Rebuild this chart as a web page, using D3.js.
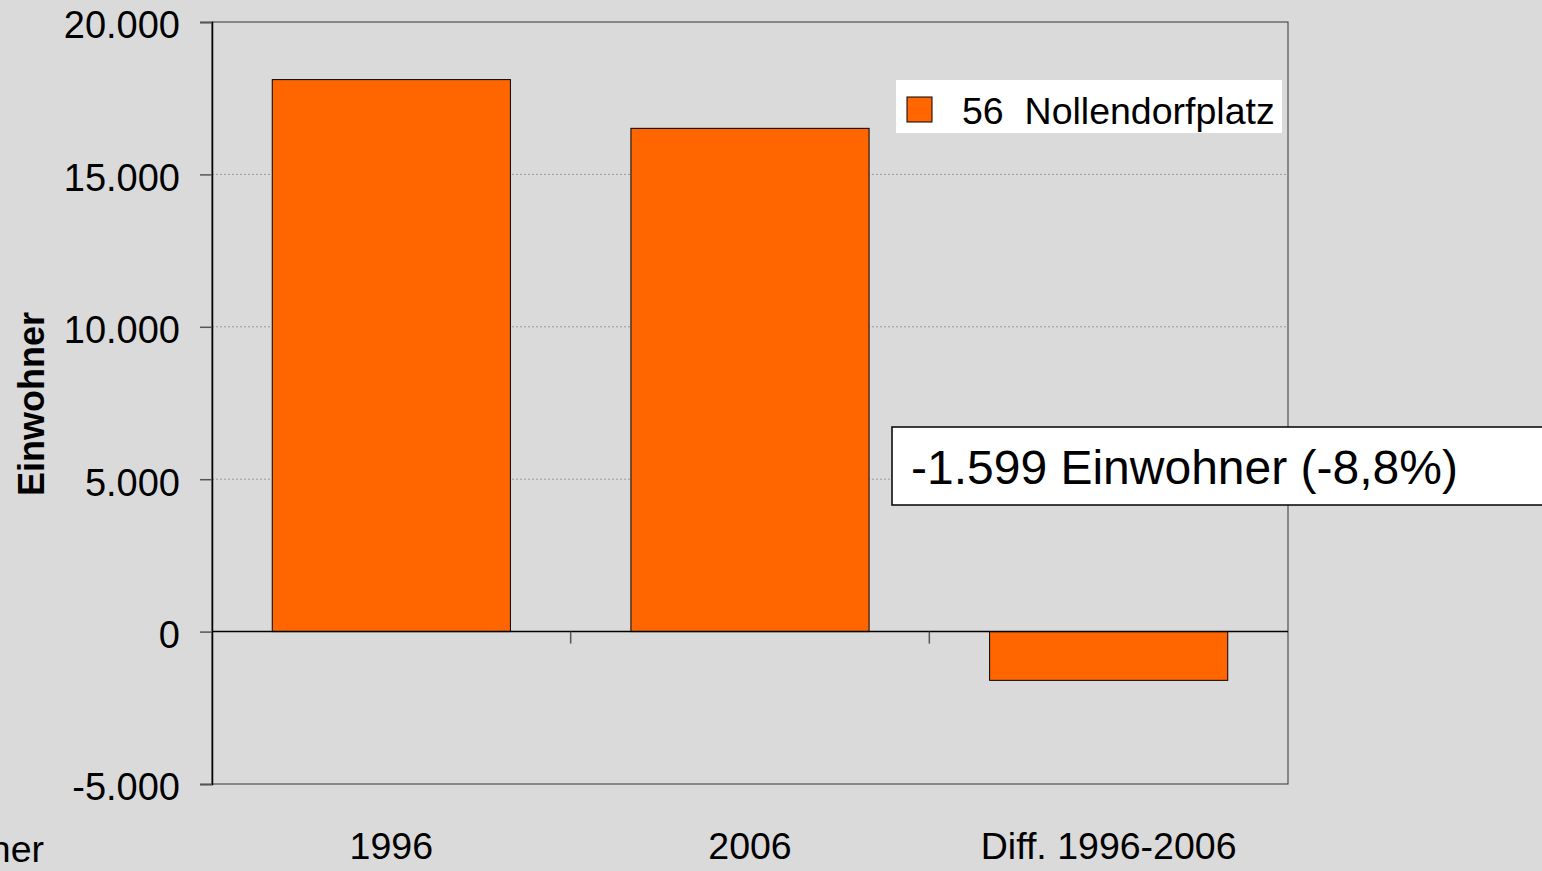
<!DOCTYPE html>
<html><head><meta charset="utf-8">
<script src="https://cdn.jsdelivr.net/npm/d3@7"></script>
<style>html,body{margin:0;padding:0;background:#dadada;overflow:hidden}</style>
</head><body>
<script>
const categories = ["1996", "2006", "Diff. 1996-2006"];
const values = [18110, 16511, -1599];
const seriesName = "56  Nollendorfplatz";
const yTicks = [-5000, 0, 5000, 10000, 15000, 20000];
const annotation = "-1.599 Einwohner (-8,8%)";
const yTitle = "Einwohner";

const W = 1542, H = 871;
const m = {left: 212, right: 1288, top: 22, bottom: 784};
const FONT = "'Liberation Sans', Arial, sans-serif";
const svg = d3.select("body").append("svg").attr("width", W).attr("height", H)
  .style("font-family", FONT);
svg.append("rect").attr("width", W).attr("height", H).attr("fill", "#dadada");

const y = d3.scaleLinear().domain([-5000, 20000]).range([m.bottom, m.top]);
const x = d3.scaleBand().domain(categories).range([m.left, m.right]).paddingInner(0.336).paddingOuter(0.168);
const xc = d3.scaleBand().domain(categories).range([m.left, m.right]);
const fmt = v => d3.format(",")(v).replace(/,/g, ".").replace("\u2212", "-");

// gridlines
svg.append("g").selectAll("line").data(yTicks.filter(t => t !== 0 && t !== 20000 && t !== -5000)).join("line")
  .attr("x1", m.left).attr("x2", m.right).attr("y1", d => y(d)).attr("y2", d => y(d))
  .attr("stroke", "#9a9a9a").attr("stroke-width", 1).attr("stroke-dasharray", "2,2");

// frame
svg.append("rect").attr("x", m.left).attr("y", m.top).attr("width", m.right - m.left).attr("height", m.bottom - m.top)
  .attr("fill", "none").attr("stroke", "#333").attr("stroke-width", 1);

// bars
svg.append("g").selectAll("rect").data(values).join("rect")
  .attr("x", (d, i) => x(categories[i]))
  .attr("width", x.bandwidth())
  .attr("y", d => y(Math.max(0, d)))
  .attr("height", d => Math.abs(y(d) - y(0)))
  .attr("fill", "#ff6600").attr("stroke", "#000").attr("stroke-width", 1);

// y axis
const yAxis = d3.axisLeft(y).tickValues(yTicks).tickFormat(fmt).tickSize(12).tickPadding(20);
const ga = svg.append("g").attr("transform", `translate(${m.left},0)`).call(yAxis);
ga.select(".domain").attr("stroke", "#000").attr("stroke-width", 1.5);
ga.selectAll(".tick line").attr("stroke", "#555").attr("stroke-width", 1.5);
ga.selectAll(".tick text").attr("font-size", 38).attr("fill", "#000").attr("font-family", FONT).attr("dy", "0.42em");

// zero line
svg.append("line").attr("x1", m.left).attr("x2", m.right).attr("y1", y(0)).attr("y2", y(0))
  .attr("stroke", "#000").attr("stroke-width", 1.5);

// x category ticks at boundaries
svg.append("g").selectAll("line").data(categories.slice(1)).join("line")
  .attr("x1", d => xc(d)).attr("x2", d => xc(d)).attr("y1", y(0)).attr("y2", y(0) + 12)
  .attr("stroke", "#555").attr("stroke-width", 1.5);

// x labels
svg.append("g").selectAll("text").data(categories).join("text")
  .attr("x", d => xc(d) + xc.bandwidth() / 2).attr("y", 859)
  .attr("text-anchor", "middle").attr("font-size", 37.5).attr("fill", "#000").text(d => d);

// y title
svg.append("text").attr("transform", `translate(44,404) rotate(-90)`)
  .attr("text-anchor", "middle").attr("font-size", 36).attr("font-weight", "bold").text(yTitle);

// partially visible text bottom-left (as in reference)
svg.append("text").attr("x", 44).attr("y", 862).attr("text-anchor", "end").attr("font-size", 37.5).text(yTitle);

// legend
const lg = svg.append("g");
lg.append("rect").attr("x", 896).attr("y", 80).attr("width", 386).attr("height", 53).attr("fill", "#fff");
lg.append("rect").attr("x", 907).attr("y", 97).attr("width", 25).attr("height", 25).attr("fill", "#ff6600").attr("stroke", "#000").attr("stroke-width", 1);
lg.append("text").attr("x", 962).attr("y", 124).attr("font-size", 37.5).attr("fill", "#000").style("white-space", "pre").text(seriesName);

// annotation box
const ab = svg.append("g");
ab.append("rect").attr("x", 892).attr("y", 427).attr("width", 660).attr("height", 78).attr("fill", "#fff").attr("stroke", "#000").attr("stroke-width", 1.5);
ab.append("text").attr("x", 911).attr("y", 484).attr("font-size", 48).attr("fill", "#000").text(annotation);
</script>
</body></html>
